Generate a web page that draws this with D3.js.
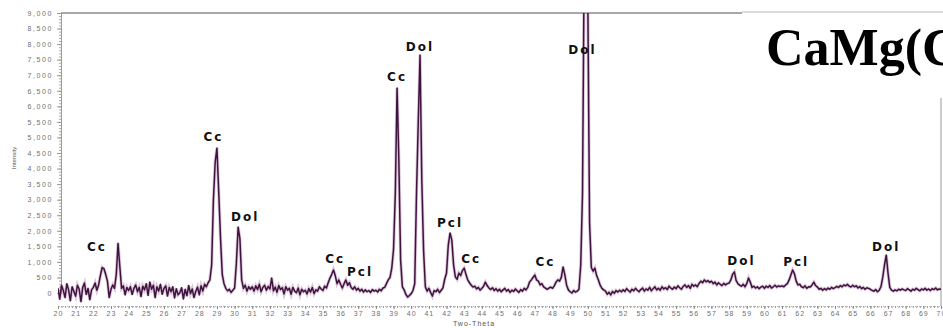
<!DOCTYPE html>
<html>
<head>
<meta charset="utf-8">
<script src="https://cdnjs.cloudflare.com/ajax/libs/d3/7.8.5/d3.min.js"></script>
<style>
  body { margin: 0; background: #fff; }
  svg { display: block; }
</style>
</head>
<body>
<script>
var width = 943,
    height = 328;

// scan: 2-theta from 20 to 70, 0.1 deg step
var startAngle = 20, stepAngle = 0.1;

// counts, one row per degree
var counts = [
  150, -200, 250, 80, -150, 300, 100, -250, 200, 50,      // 20
  -100, 250, 120, -280, 180, 320, -50, 150, -220, 100,    // 21
  180, 320, 90, 260, 560, 820, 780, 600, 380, -150,       // 22
  120, 260, 150, 600, 1600, 850, 150, 230, -60, 180,      // 23
  80, 200, -50, 150, 260, 40, 180, -120, 220, 100,        // 24
  300, -80, 350, 120, 250, -150, 200, 60, 280, -40,       // 25
  150, 230, -100, 180, 40, 200, -160, 140, -60, 10,       // 26
  170, -190, 120, -90, 240, -20, 130, -150, 50, 190,      // 27
  -60, 230, 60, 280, 200, 330, 420, 900, 3000, 4200,      // 28
  4660, 3250, 1800, 600, 300, 150, 70, 120, 20, 90,       // 29
  160, 950, 2120, 1750, 420, 150, 250, 60, 200, 120,      // 30
  200, 60, 230, 110, 280, 40, 180, 250, 90, 210,          // 31
  130, 480, 70, 190, 20, 240, 110, 170, -30, 200,         // 32
  90, 150, -40, 180, 60, 10, 160, -60, 120, 40,           // 33
  90, -30, 140, 30, 180, -20, 100, 60, 200, 130,          // 34
  80, 220, 160, 330, 480, 600, 740, 560, 300, 420,        // 35
  280, 160, 300, 420, 250, 330, 180, 120, 200, 90,        // 36
  150, 60, 120, 30, 100, 40, 80, 20, 110, 60,             // 37
  90, 30, 120, 70, 160, 180, 300, 420, 500, 800,          // 38
  1400, 3200, 6590, 4270, 1060, 200, 100, -50, -130, -80, // 39
  -20, 80, 300, 3200, 5500, 7650, 3630, 1380, 200, 60,    // 40
  150, 20, -100, 80, 40, 120, 10, 90, 170, 450,           // 41
  640, 1540, 1930, 1700, 900, 520, 440, 640, 560, 720,    // 42
  800, 600, 420, 330, 250, 190, 220, 130, 180, 90,        // 43
  150, 220, 350, 240, 160, 110, 170, 80, 140, 60,         // 44
  120, 40, 100, 150, 60, 110, 20, 90, 50, 130,            // 45
  70, 20, 110, 60, 150, 100, 180, 350, 420, 500,          // 46
  580, 420, 380, 260, 300, 200, 160, 120, 160, 190,       // 47
  150, 230, 350, 420, 380, 500, 840, 580, 250, 100,       // 48
  40, 0, 80, 30, 60, 120, 900, 3200, 11000, 12000,        // 49
  9500, 2250, 820, 700, 800, 560, 420, 250, 150, 100,     // 50
  60, -40, 20, -60, 50, -10, 80, 30, 90, 40,              // 51
  100, 50, 140, 80, 30, 120, 70, 150, 90, 40,             // 52
  110, 160, 60, 130, 90, 180, 70, 140, 200, 100,          // 53
  150, 90, 200, 130, 170, 110, 220, 160, 120, 190,        // 54
  140, 230, 170, 120, 210, 260, 180, 240, 150, 280,       // 55
  220, 260, 200, 310, 380, 330, 420, 360, 400, 340,       // 56
  380, 300, 350, 260, 330, 280, 240, 310, 260, 300,       // 57
  320, 420, 600, 680, 400, 300, 250, 220, 280, 200,       // 58
  300, 480, 350, 180, 220, 160, 200, 140, 190, 220,       // 59
  150, 220, 180, 240, 160, 200, 250, 190, 230, 210,       // 60
  230, 200, 260, 300, 420, 580, 740, 620, 380, 260,       // 61
  280, 200, 170, 230, 150, 200, 190, 260, 350, 240,       // 62
  190, 120, 150, 90, 140, 100, 160, 120, 180, 140,        // 63
  170, 210, 180, 240, 200, 260, 230, 280, 220, 190,       // 64
  250, 200, 230, 160, 210, 140, 180, 120, 170, 150,       // 65
  120, 80, 60, 110, 40, 90, 200, 500, 900, 1220,          // 66
  640, 180, 90, 60, 100, 70, 120, 90, 130, 100,           // 67
  80, 140, 100, 60, 120, 90, 150, 110, 70, 130,           // 68
  100, 150, 90, 130, 80, 140, 110, 160, 100, 130,         // 69
  120                                                     // 70
];

var xTickValues = [20, 21, 22, 23, 24, 25, 26, 27, 28, 29, 30, 31, 32, 33, 34, 35, 36, 37, 38, 39,
  40, 41, 42, 43, 44, 45, 46, 47, 48, 49, 50, 51, 52, 53, 54, 55, 56, 57, 58, 59,
  60, 61, 62, 63, 64, 65, 66, 67, 68, 69, 70];
var yTickValues = [0, 500, 1000, 1500, 2000, 2500, 3000, 3500, 4000, 4500,
  5000, 5500, 6000, 6500, 7000, 7500, 8000, 8500, 9000];

// phase labels: name, 2-theta, counts
var peakNames  = ["Cc", "Cc", "Dol", "Cc", "Pcl", "Cc", "Dol", "Pcl", "Cc", "Cc", "Dol", "Dol", "Pcl", "Dol"];
var peakAngles = [22.2, 28.8, 30.6, 35.7, 37.1, 39.2, 40.5, 42.2, 43.4, 47.6, 49.7, 58.7, 61.8, 66.9];
var peakCounts = [1480, 5010, 2440, 1090, 680, 6940, 7900, 2250, 1090, 1000, 7810, 1030, 1000, 1480];

var svg = d3.select("body").append("svg")
    .attr("width", width)
    .attr("height", height);

var x = d3.scaleLinear().domain([20, 70]).range([58, 941]);
var y = d3.scaleLinear().domain([0, 9000]).range([293, 13]);

svg.append("clipPath").attr("id", "plot")
  .append("rect")
    .attr("x", 58).attr("y", 13)
    .attr("width", 883).attr("height", 300);

// frame
svg.append("line")
    .attr("x1", 61).attr("x2", 941)
    .attr("y1", 13).attr("y2", 13)
    .attr("stroke", "#a8a8a8").attr("stroke-width", 2);
svg.append("line")
    .attr("x1", 941).attr("x2", 941)
    .attr("y1", 13).attr("y2", 306)
    .attr("stroke", "#999").attr("stroke-width", 1);

// y axis
var yMinor = svg.append("g")
    .attr("transform", "translate(61,0)")
    .call(d3.axisLeft(y).ticks(90).tickSize(2).tickFormat(""));
yMinor.select(".domain").attr("stroke", "#999");
yMinor.selectAll("line").attr("stroke", "#aaa");

var yAxis = svg.append("g")
    .attr("transform", "translate(61,0)")
    .call(d3.axisLeft(y).tickValues(yTickValues).tickSize(4).tickPadding(4).tickFormat(d3.format(",")));
yAxis.select(".domain").remove();
yAxis.selectAll("line").attr("stroke", "#999");
yAxis.selectAll("text")
    .attr("fill", "#707070")
    .style("font-family", "'Liberation Sans', Arial, sans-serif")
    .style("font-size", "7px")
    .style("letter-spacing", "1.6px");

// x axis
var xMinor = svg.append("g")
    .attr("transform", "translate(0,306)")
    .call(d3.axisBottom(x).ticks(250).tickSize(2).tickFormat(""));
xMinor.select(".domain").attr("stroke", "#bbb").attr("stroke-dasharray", "1,1");
xMinor.selectAll("line").attr("stroke", "#999");

var xAxis = svg.append("g")
    .attr("transform", "translate(0,306)")
    .call(d3.axisBottom(x).tickValues(xTickValues).tickSize(3).tickPadding(2).tickFormat(d3.format("d")));
xAxis.select(".domain").remove();
xAxis.selectAll("line").attr("stroke", "#888");
xAxis.selectAll("text")
    .attr("fill", "#707070")
    .style("font-family", "'Liberation Sans', Arial, sans-serif")
    .style("font-size", "7px")
    .style("letter-spacing", "1px");

svg.append("text")
    .attr("x", 474).attr("y", 326)
    .attr("text-anchor", "middle")
    .attr("fill", "#555")
    .style("font-family", "'Liberation Sans', Arial, sans-serif")
    .style("font-size", "7px")
    .style("letter-spacing", "1px")
    .text("Two-Theta");

svg.append("text")
    .attr("transform", "translate(16,158) rotate(-90)")
    .attr("text-anchor", "middle")
    .attr("fill", "#555")
    .style("font-family", "'Liberation Sans', Arial, sans-serif")
    .style("font-size", "6px")
    .text("Intensity");

// pattern
var line = d3.line()
    .x(function(d, i){ return x(startAngle + i * stepAngle); })
    .y(function(d){ return y(d); });

var trace = svg.append("g").attr("clip-path", "url(#plot)");
trace.append("path")
    .datum(counts)
    .attr("d", line)
    .attr("fill", "none")
    .attr("stroke", "#b58db3")
    .attr("stroke-width", 3.2)
    .attr("stroke-opacity", 0.5);
trace.append("path")
    .datum(counts)
    .attr("d", line)
    .attr("fill", "none")
    .attr("stroke", "#40123e")
    .attr("stroke-width", 1.5)
    .attr("stroke-linejoin", "round");

// phase labels
svg.selectAll(".peak")
    .data(peakNames).enter()
    .append("text")
    .attr("class", "peak")
    .attr("x", function(d, i){ return x(peakAngles[i]); })
    .attr("y", function(d, i){ return y(peakCounts[i]); })
    .attr("dy", "0.35em")
    .attr("text-anchor", "middle")
    .attr("fill", "#111")
    .style("font-family", "'DejaVu Sans', Verdana, sans-serif")
    .style("font-weight", "bold")
    .style("font-size", "12px")
    .style("letter-spacing", "2px")
    .text(function(d){ return d; });

// formula box pasted over the top right corner
svg.append("rect")
    .attr("x", 742).attr("y", 12)
    .attr("width", 201).attr("height", 86)
    .attr("fill", "#fff");
svg.append("line")
    .attr("x1", 742).attr("x2", 943)
    .attr("y1", 12).attr("y2", 12)
    .attr("stroke", "#d0d0d0").attr("stroke-width", 1.5);
svg.append("text")
    .attr("x", 766).attr("y", 65)
    .attr("fill", "#000")
    .style("font-family", "'Liberation Serif', 'Times New Roman', serif")
    .style("font-weight", "bold")
    .style("font-size", "52px")
    .text("CaMg(CO\u2083)\u2082");
</script>
</body>
</html>
